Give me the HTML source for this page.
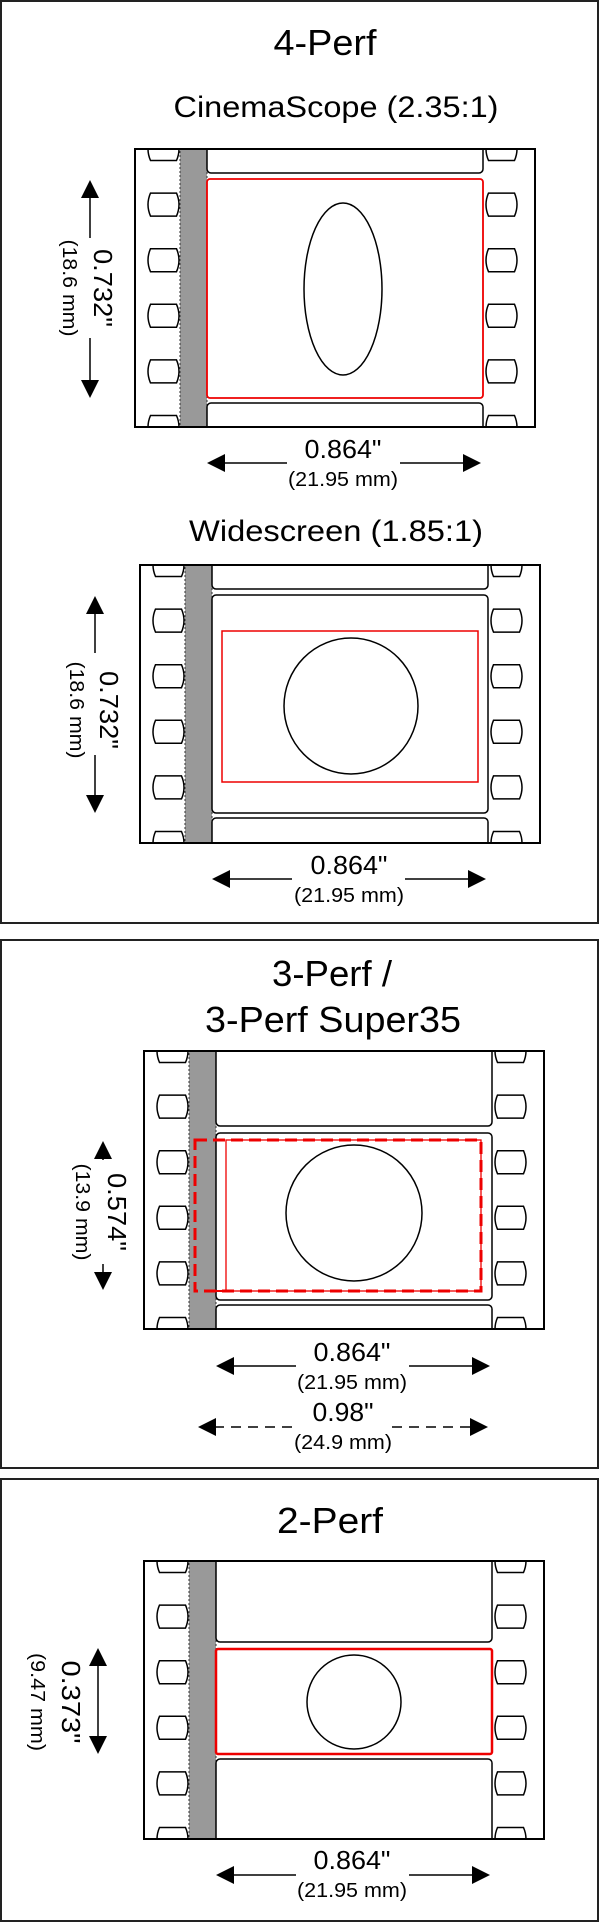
<!DOCTYPE html>
<html><head><meta charset="utf-8"><style>
html,body{margin:0;padding:0;background:#fff;}
svg{display:block;}
text{font-family:"Liberation Sans",Arial,sans-serif;fill:#000;}
</style></head><body>
<svg width="600" height="1923" viewBox="0 0 600 1923" xmlns="http://www.w3.org/2000/svg">
<defs>
  <path id="hole" d="M-13,-11.5 H13 Q18,0 13,11.5 H-13 Q-18,0 -13,-11.5 Z" fill="#fff" stroke="#000" stroke-width="1.5"/>
  <g id="strip">
    <rect x="0" y="0" width="400" height="278" fill="#fff"/>
    <use href="#hole" x="28.5" y="0"/><use href="#hole" x="28.5" y="55.6"/><use href="#hole" x="28.5" y="111.2"/>
    <use href="#hole" x="28.5" y="166.8"/><use href="#hole" x="28.5" y="222.4"/><use href="#hole" x="28.5" y="278"/>
    <use href="#hole" x="366.5" y="0"/><use href="#hole" x="366.5" y="55.6"/><use href="#hole" x="366.5" y="111.2"/>
    <use href="#hole" x="366.5" y="166.8"/><use href="#hole" x="366.5" y="222.4"/><use href="#hole" x="366.5" y="278"/>
    <rect x="45" y="-2" width="27" height="282" fill="#999" stroke="#333" stroke-width="1" stroke-dasharray="2,2"/>
  </g>
  <clipPath id="fc"><rect x="0" y="0" width="400" height="278"/></clipPath>
  <polygon id="ar" points="0,0 18,-9 18,9" fill="#000"/>
</defs>

<rect x="1" y="1" width="597" height="922" fill="none" stroke="#222" stroke-width="2"/>
<rect x="1" y="940" width="597" height="528" fill="none" stroke="#222" stroke-width="2"/>
<rect x="1" y="1479" width="597" height="442" fill="none" stroke="#222" stroke-width="2"/>

<!-- ===== Panel 1 ===== -->
<text x="325" y="55" font-size="36" text-anchor="middle" textLength="103" lengthAdjust="spacingAndGlyphs">4-Perf</text>
<text x="336" y="117" font-size="30" text-anchor="middle" textLength="325" lengthAdjust="spacingAndGlyphs">CinemaScope (2.35:1)</text>

<g transform="translate(135,149)">
  <g clip-path="url(#fc)">
    <use href="#strip"/>
    <rect x="72" y="-10" width="276" height="34" rx="4" fill="#fff" stroke="#000" stroke-width="1.5"/>
    <rect x="72" y="30" width="276" height="219" rx="3" fill="#fff" stroke="#e00" stroke-width="1.8"/>
    <rect x="72" y="254" width="276" height="40" rx="4" fill="#fff" stroke="#000" stroke-width="1.5"/>
    <ellipse cx="208" cy="140" rx="39" ry="86" fill="none" stroke="#000" stroke-width="1.5"/>
  </g>
  <rect x="0" y="0" width="400" height="278" fill="none" stroke="#000" stroke-width="2"/>
</g>
<line x1="90" y1="196" x2="90" y2="238" stroke="#000" stroke-width="1.5"/>
<line x1="90" y1="338" x2="90" y2="382" stroke="#000" stroke-width="1.5"/>
<use href="#ar" transform="translate(90,180) rotate(90)"/>
<use href="#ar" transform="translate(90,398) rotate(-90)"/>
<g transform="translate(103,288) rotate(90)"><text x="0" y="9" font-size="26" text-anchor="middle" textLength="78" lengthAdjust="spacingAndGlyphs">0.732"</text></g>
<g transform="translate(70,288) rotate(90)"><text x="0" y="7" font-size="20" text-anchor="middle" textLength="97" lengthAdjust="spacingAndGlyphs">(18.6 mm)</text></g>
<line x1="222" y1="463" x2="287" y2="463" stroke="#000" stroke-width="1.5"/>
<line x1="400" y1="463" x2="466" y2="463" stroke="#000" stroke-width="1.5"/>
<use href="#ar" transform="translate(207,463)"/>
<use href="#ar" transform="translate(481,463) rotate(180)"/>
<text x="343" y="458" font-size="26" text-anchor="middle" textLength="77" lengthAdjust="spacingAndGlyphs">0.864"</text>
<text x="343" y="486" font-size="20" text-anchor="middle" textLength="110" lengthAdjust="spacingAndGlyphs">(21.95 mm)</text>

<text x="336" y="541" font-size="30" text-anchor="middle" textLength="294" lengthAdjust="spacingAndGlyphs">Widescreen (1.85:1)</text>
<g transform="translate(140,565)">
  <g clip-path="url(#fc)">
    <use href="#strip"/>
    <rect x="72" y="-10" width="276" height="34" rx="4" fill="#fff" stroke="#000" stroke-width="1.5"/>
    <rect x="72" y="30" width="276" height="218" rx="4" fill="#fff" stroke="#000" stroke-width="1.5"/>
    <rect x="72" y="253" width="276" height="40" rx="4" fill="#fff" stroke="#000" stroke-width="1.5"/>
    <rect x="82" y="66" width="256" height="151" fill="none" stroke="#e00" stroke-width="1.5"/>
    <ellipse cx="211" cy="141" rx="67" ry="68" fill="none" stroke="#000" stroke-width="1.5"/>
  </g>
  <rect x="0" y="0" width="400" height="278" fill="none" stroke="#000" stroke-width="2"/>
</g>
<line x1="95" y1="612" x2="95" y2="653" stroke="#000" stroke-width="1.5"/>
<line x1="95" y1="755" x2="95" y2="797" stroke="#000" stroke-width="1.5"/>
<use href="#ar" transform="translate(95,596) rotate(90)"/>
<use href="#ar" transform="translate(95,813) rotate(-90)"/>
<g transform="translate(109,710) rotate(90)"><text x="0" y="9" font-size="26" text-anchor="middle" textLength="78" lengthAdjust="spacingAndGlyphs">0.732"</text></g>
<g transform="translate(77,710) rotate(90)"><text x="0" y="7" font-size="20" text-anchor="middle" textLength="97" lengthAdjust="spacingAndGlyphs">(18.6 mm)</text></g>
<line x1="228" y1="879" x2="292" y2="879" stroke="#000" stroke-width="1.5"/>
<line x1="405" y1="879" x2="470" y2="879" stroke="#000" stroke-width="1.5"/>
<use href="#ar" transform="translate(212,879)"/>
<use href="#ar" transform="translate(486,879) rotate(180)"/>
<text x="349" y="874" font-size="26" text-anchor="middle" textLength="77" lengthAdjust="spacingAndGlyphs">0.864"</text>
<text x="349" y="902" font-size="20" text-anchor="middle" textLength="110" lengthAdjust="spacingAndGlyphs">(21.95 mm)</text>

<!-- ===== Panel 2 ===== -->
<text x="332" y="986" font-size="36" text-anchor="middle" textLength="120" lengthAdjust="spacingAndGlyphs">3-Perf /</text>
<text x="333" y="1032" font-size="36" text-anchor="middle" textLength="256" lengthAdjust="spacingAndGlyphs">3-Perf Super35</text>
<g transform="translate(144,1051)">
  <g clip-path="url(#fc)">
    <use href="#strip"/>
    <rect x="72" y="-10" width="276" height="85" rx="4" fill="#fff" stroke="#000" stroke-width="1.5"/>
    <rect x="72" y="82" width="276" height="167" rx="4" fill="#fff" stroke="#000" stroke-width="1.5"/>
    <rect x="72" y="254" width="276" height="40" rx="4" fill="#fff" stroke="#000" stroke-width="1.5"/>
    <ellipse cx="210" cy="162" rx="68" ry="68" fill="none" stroke="#000" stroke-width="1.5"/>
    <rect x="82" y="89" width="255" height="151" fill="none" stroke="#e00" stroke-width="1.3"/>
    <line x1="61" y1="240" x2="82" y2="240" stroke="#e00" stroke-width="2"/>
    <rect x="51" y="89" width="286" height="151" fill="none" stroke="#e00" stroke-width="3" stroke-dasharray="12,6"/>
  </g>
  <rect x="0" y="0" width="400" height="278" fill="none" stroke="#000" stroke-width="2"/>
</g>
<line x1="103" y1="1155" x2="103" y2="1160" stroke="#000" stroke-width="1.5"/>
<line x1="103" y1="1264" x2="103" y2="1276" stroke="#000" stroke-width="1.5"/>
<use href="#ar" transform="translate(103,1141) rotate(90)"/>
<use href="#ar" transform="translate(103,1290) rotate(-90)"/>
<g transform="translate(117,1212) rotate(90)"><text x="0" y="9" font-size="26" text-anchor="middle" textLength="78" lengthAdjust="spacingAndGlyphs">0.574"</text></g>
<g transform="translate(83,1212) rotate(90)"><text x="0" y="7" font-size="20" text-anchor="middle" textLength="97" lengthAdjust="spacingAndGlyphs">(13.9 mm)</text></g>
<line x1="232" y1="1366" x2="296" y2="1366" stroke="#000" stroke-width="1.5"/>
<line x1="409" y1="1366" x2="474" y2="1366" stroke="#000" stroke-width="1.5"/>
<use href="#ar" transform="translate(216,1366)"/>
<use href="#ar" transform="translate(490,1366) rotate(180)"/>
<text x="352" y="1361" font-size="26" text-anchor="middle" textLength="77" lengthAdjust="spacingAndGlyphs">0.864"</text>
<text x="352" y="1389" font-size="20" text-anchor="middle" textLength="110" lengthAdjust="spacingAndGlyphs">(21.95 mm)</text>
<line x1="214" y1="1427" x2="293" y2="1427" stroke="#000" stroke-width="1.5" stroke-dasharray="10,7"/>
<line x1="392" y1="1427" x2="472" y2="1427" stroke="#000" stroke-width="1.5" stroke-dasharray="10,7"/>
<use href="#ar" transform="translate(198,1427)"/>
<use href="#ar" transform="translate(488,1427) rotate(180)"/>
<text x="343" y="1421" font-size="26" text-anchor="middle" textLength="61" lengthAdjust="spacingAndGlyphs">0.98"</text>
<text x="343" y="1449" font-size="20" text-anchor="middle" textLength="98" lengthAdjust="spacingAndGlyphs">(24.9 mm)</text>

<!-- ===== Panel 3 ===== -->
<text x="330" y="1533" font-size="36" text-anchor="middle" textLength="106" lengthAdjust="spacingAndGlyphs">2-Perf</text>
<g transform="translate(144,1561)">
  <g clip-path="url(#fc)">
    <use href="#strip"/>
    <rect x="72" y="-10" width="276" height="91" rx="4" fill="#fff" stroke="#000" stroke-width="1.5"/>
    <rect x="72" y="88" width="276" height="105" rx="2" fill="#fff" stroke="#e00" stroke-width="2.5"/>
    <rect x="72" y="198" width="276" height="95" rx="4" fill="#fff" stroke="#000" stroke-width="1.5"/>
    <ellipse cx="210" cy="141" rx="47" ry="47" fill="none" stroke="#000" stroke-width="1.5"/>
  </g>
  <rect x="0" y="0" width="400" height="278" fill="none" stroke="#000" stroke-width="2"/>
</g>
<line x1="98" y1="1664" x2="98" y2="1738" stroke="#000" stroke-width="1.5"/>
<use href="#ar" transform="translate(98,1648) rotate(90)"/>
<use href="#ar" transform="translate(98,1754) rotate(-90)"/>
<g transform="translate(71,1702) rotate(90)"><text x="0" y="9" font-size="26" text-anchor="middle" textLength="83" lengthAdjust="spacingAndGlyphs">0.373"</text></g>
<g transform="translate(38,1702) rotate(90)"><text x="0" y="7" font-size="20" text-anchor="middle" textLength="98" lengthAdjust="spacingAndGlyphs">(9.47 mm)</text></g>
<line x1="232" y1="1875" x2="296" y2="1875" stroke="#000" stroke-width="1.5"/>
<line x1="409" y1="1875" x2="474" y2="1875" stroke="#000" stroke-width="1.5"/>
<use href="#ar" transform="translate(216,1875)"/>
<use href="#ar" transform="translate(490,1875) rotate(180)"/>
<text x="352" y="1869" font-size="26" text-anchor="middle" textLength="77" lengthAdjust="spacingAndGlyphs">0.864"</text>
<text x="352" y="1897" font-size="20" text-anchor="middle" textLength="110" lengthAdjust="spacingAndGlyphs">(21.95 mm)</text>
</svg>
</body></html>
